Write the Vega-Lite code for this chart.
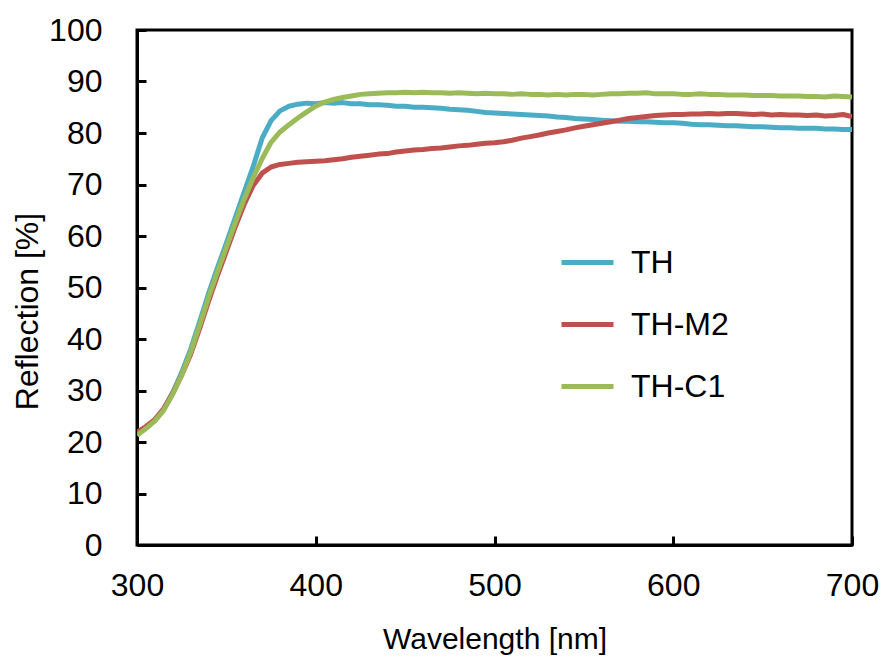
{
  "$schema": "https://vega.github.io/schema/vega-lite/v6.json",
  "width": 715,
  "height": 515,
  "autosize": {"type": "none"},
  "padding": {"left": 137, "top": 30, "right": 33, "bottom": 112},
  "background": "white",
  "config": {
    "view": {"stroke": "black", "strokeWidth": 3},
    "font": "Liberation Sans",
    "axis": {
      "grid": false,
      "domainColor": "black",
      "domainWidth": 3,
      "tickColor": "black",
      "tickWidth": 3,
      "tickSize": -9,
      "labelFont": "Liberation Sans",
      "labelFontSize": 32,
      "labelColor": "black",
      "labelFlush": false,
      "titleFont": "Liberation Sans",
      "titleFontWeight": "normal",
      "titleColor": "black"
    }
  },
  "data": {
    "values": [
      {"w":300,"TH":21.4,"TH-M2":21.9,"TH-C1":21.3},
      {"w":305,"TH":22.7,"TH-M2":23.0,"TH-C1":22.6},
      {"w":310,"TH":24.2,"TH-M2":24.4,"TH-C1":24.1},
      {"w":315,"TH":26.4,"TH-M2":26.5,"TH-C1":26.2},
      {"w":320,"TH":29.6,"TH-M2":29.5,"TH-C1":29.3},
      {"w":325,"TH":33.5,"TH-M2":33.0,"TH-C1":33.0},
      {"w":330,"TH":38.0,"TH-M2":37.0,"TH-C1":37.4},
      {"w":335,"TH":43.3,"TH-M2":42.0,"TH-C1":42.6},
      {"w":340,"TH":48.8,"TH-M2":47.3,"TH-C1":48.0},
      {"w":345,"TH":53.8,"TH-M2":52.3,"TH-C1":53.0},
      {"w":350,"TH":58.6,"TH-M2":57.0,"TH-C1":57.8},
      {"w":355,"TH":63.6,"TH-M2":61.8,"TH-C1":62.6},
      {"w":360,"TH":68.6,"TH-M2":66.2,"TH-C1":67.2},
      {"w":365,"TH":73.5,"TH-M2":69.8,"TH-C1":71.3},
      {"w":370,"TH":79.0,"TH-M2":72.2,"TH-C1":75.0},
      {"w":375,"TH":82.4,"TH-M2":73.4,"TH-C1":78.2},
      {"w":380,"TH":84.3,"TH-M2":73.9,"TH-C1":80.2},
      {"w":385,"TH":85.2,"TH-M2":74.1,"TH-C1":81.6},
      {"w":390,"TH":85.6,"TH-M2":74.3,"TH-C1":82.9},
      {"w":395,"TH":85.8,"TH-M2":74.4,"TH-C1":84.1},
      {"w":400,"TH":85.7,"TH-M2":74.5,"TH-C1":85.2},
      {"w":405,"TH":85.9,"TH-M2":74.6,"TH-C1":86.0},
      {"w":410,"TH":85.8,"TH-M2":74.8,"TH-C1":86.5},
      {"w":415,"TH":85.9,"TH-M2":75.0,"TH-C1":86.9},
      {"w":420,"TH":85.7,"TH-M2":75.3,"TH-C1":87.2},
      {"w":425,"TH":85.7,"TH-M2":75.5,"TH-C1":87.5},
      {"w":430,"TH":85.5,"TH-M2":75.7,"TH-C1":87.6},
      {"w":435,"TH":85.5,"TH-M2":75.9,"TH-C1":87.7},
      {"w":440,"TH":85.4,"TH-M2":76.0,"TH-C1":87.8},
      {"w":445,"TH":85.2,"TH-M2":76.3,"TH-C1":87.8},
      {"w":450,"TH":85.2,"TH-M2":76.5,"TH-C1":87.9},
      {"w":455,"TH":85.0,"TH-M2":76.7,"TH-C1":87.8},
      {"w":460,"TH":85.0,"TH-M2":76.8,"TH-C1":87.9},
      {"w":465,"TH":84.9,"TH-M2":77.0,"TH-C1":87.8},
      {"w":470,"TH":84.8,"TH-M2":77.1,"TH-C1":87.8},
      {"w":475,"TH":84.6,"TH-M2":77.3,"TH-C1":87.7},
      {"w":480,"TH":84.5,"TH-M2":77.5,"TH-C1":87.8},
      {"w":485,"TH":84.4,"TH-M2":77.6,"TH-C1":87.7},
      {"w":490,"TH":84.2,"TH-M2":77.8,"TH-C1":87.6},
      {"w":495,"TH":84.0,"TH-M2":78.0,"TH-C1":87.7},
      {"w":500,"TH":83.9,"TH-M2":78.1,"TH-C1":87.6},
      {"w":505,"TH":83.8,"TH-M2":78.3,"TH-C1":87.6},
      {"w":510,"TH":83.7,"TH-M2":78.6,"TH-C1":87.5},
      {"w":515,"TH":83.6,"TH-M2":79.0,"TH-C1":87.6},
      {"w":520,"TH":83.5,"TH-M2":79.3,"TH-C1":87.5},
      {"w":525,"TH":83.4,"TH-M2":79.6,"TH-C1":87.5},
      {"w":530,"TH":83.3,"TH-M2":80.0,"TH-C1":87.4},
      {"w":535,"TH":83.1,"TH-M2":80.3,"TH-C1":87.5},
      {"w":540,"TH":83.0,"TH-M2":80.6,"TH-C1":87.4},
      {"w":545,"TH":82.8,"TH-M2":81.0,"TH-C1":87.5},
      {"w":550,"TH":82.7,"TH-M2":81.3,"TH-C1":87.5},
      {"w":555,"TH":82.6,"TH-M2":81.6,"TH-C1":87.4},
      {"w":560,"TH":82.5,"TH-M2":81.9,"TH-C1":87.5},
      {"w":565,"TH":82.4,"TH-M2":82.2,"TH-C1":87.6},
      {"w":570,"TH":82.3,"TH-M2":82.5,"TH-C1":87.6},
      {"w":575,"TH":82.3,"TH-M2":82.8,"TH-C1":87.7},
      {"w":580,"TH":82.2,"TH-M2":83.0,"TH-C1":87.7},
      {"w":585,"TH":82.2,"TH-M2":83.2,"TH-C1":87.8},
      {"w":590,"TH":82.1,"TH-M2":83.4,"TH-C1":87.6},
      {"w":595,"TH":82.0,"TH-M2":83.5,"TH-C1":87.6},
      {"w":600,"TH":82.0,"TH-M2":83.6,"TH-C1":87.6},
      {"w":605,"TH":81.9,"TH-M2":83.6,"TH-C1":87.5},
      {"w":610,"TH":81.7,"TH-M2":83.7,"TH-C1":87.5},
      {"w":615,"TH":81.6,"TH-M2":83.7,"TH-C1":87.6},
      {"w":620,"TH":81.6,"TH-M2":83.8,"TH-C1":87.5},
      {"w":625,"TH":81.5,"TH-M2":83.7,"TH-C1":87.5},
      {"w":630,"TH":81.4,"TH-M2":83.8,"TH-C1":87.4},
      {"w":635,"TH":81.4,"TH-M2":83.8,"TH-C1":87.4},
      {"w":640,"TH":81.3,"TH-M2":83.7,"TH-C1":87.4},
      {"w":645,"TH":81.2,"TH-M2":83.6,"TH-C1":87.3},
      {"w":650,"TH":81.2,"TH-M2":83.7,"TH-C1":87.3},
      {"w":655,"TH":81.1,"TH-M2":83.5,"TH-C1":87.3},
      {"w":660,"TH":81.0,"TH-M2":83.6,"TH-C1":87.2},
      {"w":665,"TH":81.0,"TH-M2":83.5,"TH-C1":87.2},
      {"w":670,"TH":80.9,"TH-M2":83.5,"TH-C1":87.2},
      {"w":675,"TH":80.9,"TH-M2":83.4,"TH-C1":87.1},
      {"w":680,"TH":80.9,"TH-M2":83.5,"TH-C1":87.1},
      {"w":685,"TH":80.8,"TH-M2":83.3,"TH-C1":87.0},
      {"w":690,"TH":80.8,"TH-M2":83.4,"TH-C1":87.2},
      {"w":695,"TH":80.7,"TH-M2":83.6,"TH-C1":87.1},
      {"w":700,"TH":80.7,"TH-M2":83.2,"TH-C1":87.0}
    ]
  },
  "transform": [
    {"fold": ["TH", "TH-M2", "TH-C1"], "as": ["sample", "reflection"]}
  ],
  "mark": {"type": "line", "strokeWidth": 5, "strokeJoin": "round", "clip": true},
  "encoding": {
    "x": {
      "field": "w",
      "type": "quantitative",
      "scale": {"domain": [300, 700], "nice": false},
      "axis": {
        "title": "Wavelength [nm]",
        "values": [300, 400, 500, 600, 700],
        "labelPadding": 34,
        "titleFontSize": 30,
        "titleBaseline": "alphabetic",
        "titleY": 103
      }
    },
    "y": {
      "field": "reflection",
      "type": "quantitative",
      "scale": {"domain": [0, 100], "nice": false},
      "axis": {
        "title": "Reflection [%]",
        "values": [0, 10, 20, 30, 40, 50, 60, 70, 80, 90, 100],
        "labelPadding": 44,
        "titleFontSize": 32,
        "titleBaseline": "middle",
        "titleX": -110,
        "titleY": 281
      }
    },
    "color": {
      "field": "sample",
      "type": "nominal",
      "sort": ["TH", "TH-M2", "TH-C1"],
      "scale": {"domain": ["TH", "TH-M2", "TH-C1"], "range": ["#4BACC6", "#C0504D", "#9BBB59"]},
      "legend": {
        "title": null,
        "orient": "none",
        "legendX": 422,
        "legendY": 204,
        "padding": 0,
        "symbolType": "stroke",
        "symbolSize": 2704,
        "symbolStrokeWidth": 5,
        "labelFontSize": 32,
        "labelFont": "Liberation Sans",
        "labelColor": "black",
        "labelOffset": 15,
        "rowPadding": 17
      }
    }
  }
}
